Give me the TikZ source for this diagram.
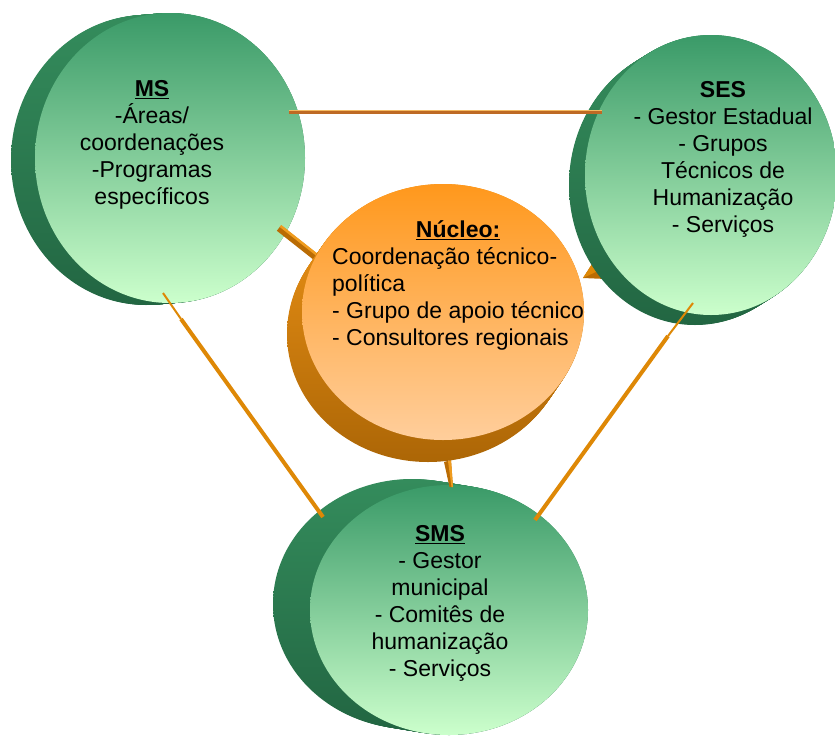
\documentclass[tikz,border=0pt]{standalone}
\usepackage{fontspec}
\setmainfont{Liberation Sans}
\usetikzlibrary{shapes.geometric,calc}

\definecolor{faceGreenTop}{RGB}{58,154,104}
\definecolor{faceGreenBot}{RGB}{204,255,204}
\definecolor{sideGreenTop}{RGB}{52,140,92}
\definecolor{sideGreenBot}{RGB}{34,102,66}
\definecolor{faceOrangeTop}{RGB}{255,152,28}
\definecolor{faceOrangeBot}{RGB}{255,206,156}
\definecolor{sideOrangeTop}{RGB}{236,146,22}
\definecolor{sideOrangeBot}{RGB}{172,102,6}
\definecolor{linkBrown}{RGB}{190,106,36}
\definecolor{linkOrange}{RGB}{222,136,6}
\definecolor{linkLight}{RGB}{240,156,30}
\definecolor{linkDark}{RGB}{186,108,4}

% extruded side of a drum: cx, cy, rx, ry, dx, dy, top colour, bottom colour
\newcommand\drumside[8]{%
  \foreach \k in {0,...,24}{%
    \shade[top color=#7, bottom color=#8]
      ({#1+#5*\k/24},{#2+#6*\k/24}) ellipse [x radius=#3, y radius=#4];
  }%
}

\tikzset{
  face/.style={ellipse, inner sep=0pt, outer sep=0pt, draw=none},
  greenface/.style={face, top color=faceGreenTop, bottom color=faceGreenBot},
  orangeface/.style={face, top color=faceOrangeTop, bottom color=faceOrangeBot},
  caption/.style={font=\fontsize{23}{27}\selectfont, align=center, inner sep=0pt},
  thinlink/.style={draw=linkOrange, line width=2pt},
  thicklink/.style={draw=linkOrange, line width=4pt},
  brownlink/.style={draw=linkBrown, line width=4.5pt},
}

\begin{document}
\begin{tikzpicture}[x=1pt,y=-1pt]
\useasboundingbox (0,0) rectangle (835,742);

% wedge from the core towards SES (passes behind the SES drum)
\coordinate (nucE) at (583,278);
\coordinate (sesW) at (600,270);
\fill[linkDark] (nucE) -- ($(sesW)+(-6,-9)$) -- ($(sesW)+(6,9)$) -- cycle;
\fill[linkOrange] (nucE) -- ($(sesW)+(-6,-9)$) -- ($(sesW)+(0,0)$) -- cycle;

% MS drum
\drumside{170}{158}{135}{145}{-24}{2}{sideGreenTop}{sideGreenBot}
\node[greenface, minimum width=270pt, minimum height=290pt] (ms) at (170,158) {};

% SES drum
\drumside{711}{175}{126}{140}{-16}{10}{sideGreenTop}{sideGreenBot}
\node[greenface, minimum width=252pt, minimum height=280pt] (ses) at (711,175) {};

% SMS drum
\drumside{449}{610}{139}{125}{-37}{-6}{sideGreenTop}{sideGreenBot}
\node[greenface, minimum width=278pt, minimum height=250pt] (sms) at (449,610) {};

% connectors between the outer drums
\coordinate (msE) at (289,112);
\coordinate (sesE) at (602,112);
\draw[brownlink] (msE) -- (sesE);
\draw[draw=linkLight!70!white, line width=1pt] ($(msE)+(0,-1.8)$) -- ($(sesE)+(0,-1.8)$);

\coordinate (msS) at (163,293);
\coordinate (msS2) at (181,319);
\coordinate (smsW) at (323,517);
\draw[thinlink] (msS) -- (msS2);
\draw[thicklink] (msS2) -- (smsW);

\coordinate (sesS) at (693,303);
\coordinate (sesS2) at (668,336);
\coordinate (smsE) at (535,520);
\draw[thinlink] (sesS) -- (sesS2);
\draw[thicklink] (sesS2) -- (smsE);

% bar from the core towards MS
\coordinate (msC) at (279,228);
\coordinate (nucW) at (317,258);
\draw[linkDark, line width=7pt] (msC) -- (nucW);
\draw[linkLight, line width=2.5pt] ($(msC)+(1.5,-2)$) -- ($(nucW)+(1.5,-2)$);

% bar from the core towards SMS
\coordinate (nucS) at (448,460);
\coordinate (smsN) at (451,487);
\fill[linkDark] ($(nucS)+(-4,2)$) -- ($(nucS)+(3,0)$) -- ($(smsN)+(2,0)$) -- ($(smsN)+(-1.5,0)$) -- cycle;
\fill[linkLight] ($(nucS)+(0,1)$) -- ($(nucS)+(3,0)$) -- ($(smsN)+(2,0)$) -- ($(smsN)+(0.5,0)$) -- cycle;

% core drum
\drumside{443}{312}{141}{128}{-15}{22}{sideOrangeTop}{sideOrangeBot}
\node[orangeface, minimum width=282pt, minimum height=256pt] (nuc) at (443,312) {};

% captions
\node[caption] (msText) at (152,145) {\textbf{\underline{MS}}\\-Áreas/\\coordenações\\-Programas\\específicos};
\node[caption] (sesText) at (723,159) {\textbf{SES}\\- Gestor Estadual\\- Grupos\\Técnicos de\\Humanização\\- Serviços};
\node[caption] (smsText) at (440,603) {\textbf{\underline{SMS}}\\- Gestor\\municipal\\- Comitês de\\humanização\\- Serviços};
\node[caption, anchor=west] (nucText) at (332,286)
  {\begin{tabular}{@{}l@{}}
   \multicolumn{1}{@{}c@{}}{\textbf{\underline{Núcleo:}}}\\
   Coordenação técnico-\\
   política\\
   - Grupo de apoio técnico\\
   - Consultores regionais
   \end{tabular}};
\end{tikzpicture}
\end{document}
